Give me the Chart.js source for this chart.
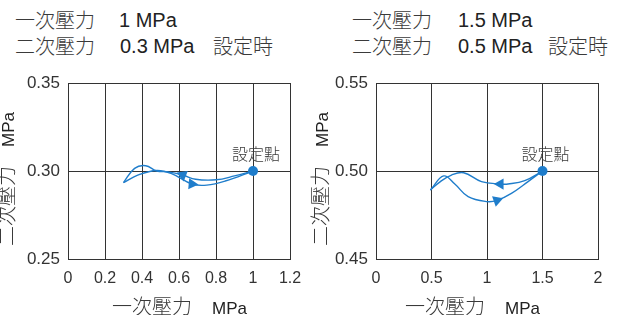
<!DOCTYPE html>
<html>
<head>
<meta charset="utf-8">
<script src="https://cdn.jsdelivr.net/npm/chart.js@4.4.1/dist/chart.umd.min.js"></script>
<style>
  body { margin: 0; width: 625px; height: 315px; background: #fff; position: relative; overflow: hidden;
    font-family: 'Liberation Sans', Arial, sans-serif; color: #222; }
  .t { position: absolute; white-space: nowrap; line-height: 1; }
  .cjk { font-family: 'Noto Sans CJK JP', sans-serif; font-size: 20px; font-weight: 300; color: #3a3a3a; }
  .num { font-size: 20px; }
  .unit { font-size: 17px; }
  .ytitle { transform: rotate(-90deg); transform-origin: 0 0; }
  canvas { position: absolute; }
</style>
</head>
<body>

<!-- header text -->
<div class="t cjk" style="left:15px;top:10px">一次壓力</div>
<div class="t num" style="left:119px;top:10px">1 MPa</div>
<div class="t cjk" style="left:15px;top:36px">二次壓力</div>
<div class="t num" style="left:120px;top:36px">0.3 MPa</div>
<div class="t cjk" style="left:213px;top:36px">設定時</div>

<div class="t cjk" style="left:352px;top:10px">一次壓力</div>
<div class="t num" style="left:458px;top:10px">1.5 MPa</div>
<div class="t cjk" style="left:352px;top:36px">二次壓力</div>
<div class="t num" style="left:458px;top:36px">0.5 MPa</div>
<div class="t cjk" style="left:548px;top:36px">設定時</div>

<canvas id="leftChart" width="312" height="255" style="left:0;top:60px"></canvas>
<canvas id="rightChart" width="315" height="255" style="left:310px;top:60px"></canvas>

<!-- axis titles -->
<div class="t ytitle" style="left:-4px;top:246px"><span class="cjk">二次壓力</span><span class="unit" style="margin-left:19px">MPa</span></div>
<div class="t ytitle" style="left:310px;top:246px"><span class="cjk">二次壓力</span><span class="unit" style="margin-left:19px">MPa</span></div>
<div class="t" style="left:112px;top:296px"><span class="cjk">一次壓力</span><span class="unit" style="margin-left:20px">MPa</span></div>
<div class="t" style="left:405px;top:296px"><span class="cjk">一次壓力</span><span class="unit" style="margin-left:20px">MPa</span></div>

<script>
// ---- data: 1 MPa / 0.3 MPa ----
const leftXTicks = [0, 0.2, 0.4, 0.6, 0.8, 1, 1.2];
const leftYTicks = [0.25, 0.30, 0.35];
const leftDownX = [1.00, 0.90, 0.80, 0.69, 0.62, 0.54, 0.48, 0.42, 0.36, 0.30];
const leftDownY = [0.300, 0.2972, 0.2950, 0.2953, 0.2977, 0.2995, 0.3000, 0.3030, 0.3015, 0.2934];
const leftUpX = [0.30, 0.38, 0.48, 0.56, 0.67, 0.75, 0.85, 1.00];
const leftUpY = [0.2934, 0.2978, 0.3003, 0.2985, 0.2926, 0.2920, 0.2943, 0.300];
const leftSetX = [1.0];
const leftSetY = [0.30];

// ---- data: 1.5 MPa / 0.5 MPa ----
const rightXTicks = [0, 0.5, 1, 1.5, 2];
const rightYTicks = [0.45, 0.50, 0.55];
const rightDownX = [1.50, 1.34, 1.19, 1.12, 0.95, 0.79, 0.68, 0.58, 0.49];
const rightDownY = [0.500, 0.4945, 0.4926, 0.4926, 0.4940, 0.4990, 0.4977, 0.4940, 0.4892];
const rightUpX = [0.49, 0.61, 0.71, 0.83, 1.00, 1.09, 1.22, 1.37, 1.50];
const rightUpY = [0.4892, 0.4972, 0.4926, 0.4854, 0.4826, 0.4833, 0.4873, 0.4940, 0.500];
const rightSetX = [1.5];
const rightSetY = [0.50];

const LINE = '#1f7dcb';
const GRID = '#333';
const TICK_FONT = "'Liberation Sans', Arial, sans-serif";

function curve(xs, ys, arrowAt, rot) {
  return {
    data: xs.map((x, i) => ({ x, y: ys[i] })),
    showLine: true,
    borderColor: LINE,
    backgroundColor: LINE,
    borderWidth: 1.4,
    tension: 0.4,
    pointStyle: 'triangle',
    rotation: rot,
    pointRadius: xs.map((_, i) => (i === arrowAt ? 6.5 : 0)),
    pointBorderWidth: 0
  };
}

function setPoint(xs, ys) {
  return {
    data: xs.map((x, i) => ({ x, y: ys[i] })),
    backgroundColor: LINE,
    borderColor: LINE,
    pointRadius: 5,
    pointBorderWidth: 0
  };
}

// label "設定點" above the set point
const setLabel = {
  id: 'setLabel',
  afterDatasetsDraw(chart) {
    const p = chart.getDatasetMeta(2).data[0];
    const ctx = chart.ctx;
    ctx.save();
    ctx.font = "300 16px 'Noto Sans CJK JP'";
    ctx.fillStyle = '#3a3a3a';
    ctx.textAlign = 'center';
    ctx.textBaseline = 'middle';
    ctx.fillText('設定點', p.x + 3, p.y - 17);
    ctx.restore();
  }
};

function makeChart(id, o) {
  new Chart(document.getElementById(id), {
    type: 'scatter',
    data: { datasets: o.datasets },
    plugins: [setLabel],
    options: {
      responsive: false,
      animation: false,
      events: [],
      layout: { padding: { left: 0, right: o.padRight, top: 23, bottom: 0 } },
      plugins: { legend: { display: false }, tooltip: { enabled: false } },
      scales: {
        x: {
          type: 'linear',
          min: o.xTicks[0],
          max: o.xTicks[o.xTicks.length - 1],
          afterBuildTicks: (axis) => { axis.ticks = o.xTicks.map(v => ({ value: v })); },
          afterFit: (axis) => { axis.height = 56; },
          grid: { color: GRID, lineWidth: 1, drawTicks: false },
          border: { color: GRID, width: 1 },
          ticks: { color: '#333', padding: 10, maxRotation: 0, autoSkip: false,
                   font: { family: TICK_FONT, size: 16 },
                   callback: (v) => String(v) }
        },
        y: {
          type: 'linear',
          min: o.yTicks[0],
          max: o.yTicks[o.yTicks.length - 1],
          afterBuildTicks: (axis) => { axis.ticks = o.yTicks.map(v => ({ value: v })); },
          afterFit: (axis) => { axis.width = o.yWidth; },
          grid: { color: GRID, lineWidth: 1, drawTicks: false },
          border: { color: GRID, width: 1 },
          ticks: { color: '#333', padding: 8, autoSkip: false,
                   font: { family: TICK_FONT, size: 17 },
                   callback: (v) => Number(v).toFixed(2) }
        }
      }
    }
  });
}

makeChart('leftChart', {
  xTicks: leftXTicks, yTicks: leftYTicks, yWidth: 68, padRight: 22,
  datasets: [
    curve(leftDownX, leftDownY, 4, 292),
    curve(leftUpX, leftUpY, 4, 95),
    setPoint(leftSetX, leftSetY)
  ]
});

makeChart('rightChart', {
  xTicks: rightXTicks, yTicks: rightYTicks, yWidth: 66, padRight: 27,
  datasets: [
    curve(rightDownX, rightDownY, 3, 270),
    curve(rightUpX, rightUpY, 5, 71),
    setPoint(rightSetX, rightSetY)
  ]
});
</script>
</body>
</html>
